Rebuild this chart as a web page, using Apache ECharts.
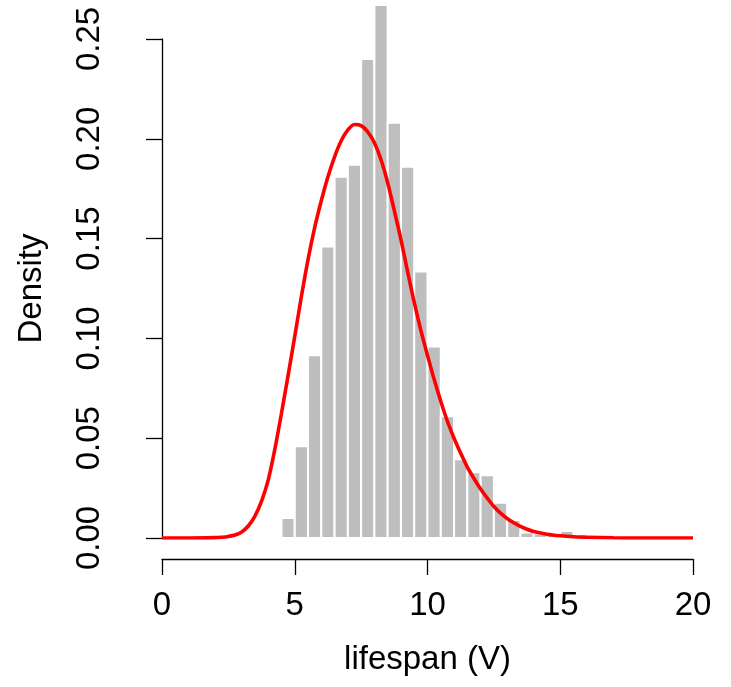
<!DOCTYPE html>
<html>
<head>
<meta charset="utf-8">
<script src="https://cdn.jsdelivr.net/npm/echarts@6/dist/echarts.min.js"></script>
<style>
html,body{margin:0;padding:0;background:#fff;}
#chart{width:731px;height:687px;}
</style>
</head>
<body>
<div id="chart"></div>
<script>
// Histogram bins (lifespan) and their densities
const binLeft  = [4.5, 5.0, 5.5, 6.0, 6.5, 7.0, 7.5, 8.0, 8.5, 9.0, 9.5, 10.0, 10.5, 11.0, 11.5, 12.0, 12.5, 13.0, 13.5, 14.0, 14.5, 15.0];
const binRight = [5.0, 5.5, 6.0, 6.5, 7.0, 7.5, 8.0, 8.5, 9.0, 9.5, 10.0, 10.5, 11.0, 11.5, 12.0, 12.5, 13.0, 13.5, 14.0, 14.5, 15.0, 15.5];
const binDensity = [0.010, 0.046, 0.0915, 0.146, 0.181, 0.187, 0.240, 0.267, 0.208, 0.186, 0.1335, 0.096, 0.061, 0.0395, 0.033, 0.0315, 0.0177, 0.009, 0.0028, 0.0023, 0.0015, 0.0035];

// Fitted density curve
const curveX = [0, 1, 2, 2.25, 2.5, 2.75, 3, 3.25, 3.5, 3.75, 4, 4.25, 4.5, 4.75, 5, 5.25, 5.5, 5.75, 6, 6.25, 6.5, 6.75, 7, 7.25, 7.5, 7.75, 8, 8.25, 8.5, 8.75, 9, 9.25, 9.5, 9.75, 10, 10.25, 10.5, 10.75, 11, 11.25, 11.5, 11.75, 12, 12.25, 12.5, 12.75, 13, 13.25, 13.5, 13.75, 14, 14.5, 15, 15.5, 16, 17, 18, 20];
const curveY = [0, 0, 0.0002, 0.0004, 0.0008, 0.0015, 0.0030, 0.0060, 0.0110, 0.0185, 0.0290, 0.0445, 0.0625, 0.0815, 0.1010, 0.1210, 0.1395, 0.1555, 0.1690, 0.1810, 0.1910, 0.1990, 0.2045, 0.2072, 0.2066, 0.2035, 0.1980, 0.1895, 0.1780, 0.1640, 0.1495, 0.1335, 0.1180, 0.1040, 0.0915, 0.0795, 0.0685, 0.0585, 0.0500, 0.0425, 0.0355, 0.0298, 0.0245, 0.0200, 0.0158, 0.0125, 0.0098, 0.0076, 0.0058, 0.0044, 0.0033, 0.0019, 0.0011, 0.0006, 0.0004, 0.0001, 0, 0];

const xTicks = [0, 5, 10, 15, 20];
const yTicks = [0, 0.05, 0.10, 0.15, 0.20, 0.25];

const xLabel = 'lifespan (V)';
const yLabel = 'Density';

const histData = binLeft.map((l, i) => [l, binRight[i], binDensity[i]]);
const curveData = curveX.map((x, i) => [x, curveY[i]]);

const chart = echarts.init(document.getElementById('chart'), null, {renderer: 'canvas'});
const FONT = 'Liberation Sans, Arial, Helvetica, sans-serif';

chart.setOption({
  backgroundColor: '#ffffff',
  animation: false,
  grid: {left: 162, right: 38, top: 39, bottom: 149},
  xAxis: {
    type: 'value',
    min: xTicks[0], max: xTicks[xTicks.length - 1], interval: 5,
    offset: 21,
    name: xLabel, nameLocation: 'middle', nameGap: 84,
    nameTextStyle: {fontSize: 33, color: '#000', fontFamily: FONT},
    axisLine: {show: true, onZero: false, lineStyle: {color: '#000', width: 1.3}},
    axisTick: {show: true, length: 16, lineStyle: {color: '#000', width: 1.3}},
    axisLabel: {fontSize: 33, color: '#000', fontFamily: FONT, margin: 30},
    splitLine: {show: false}
  },
  yAxis: {
    type: 'value',
    min: yTicks[0], max: yTicks[yTicks.length - 1], interval: 0.05,
    offset: 20,
    name: yLabel, nameLocation: 'middle', nameGap: 94,
    nameTextStyle: {fontSize: 33, color: '#000', fontFamily: FONT},
    axisLine: {show: true, lineStyle: {color: '#000', width: 1.3}},
    axisTick: {show: true, length: 16, lineStyle: {color: '#000', width: 1.3}},
    axisLabel: {fontSize: 33, color: '#000', fontFamily: FONT, rotate: 90, margin: 36,
      formatter: v => v.toFixed(2)},
    splitLine: {show: false}
  },
  series: [
    {
      type: 'custom',
      name: 'histogram',
      clip: false,
      encode: {x: [0, 1], y: 2},
      data: histData,
      renderItem: function (params, api) {
        const p0 = api.coord([api.value(0), api.value(2)]);
        const p1 = api.coord([api.value(1), 0]);
        return {
          type: 'rect',
          shape: {x: p0[0], y: p0[1], width: p1[0] - p0[0], height: p1[1] - p0[1]},
          style: {fill: '#bebebe', stroke: '#ffffff', lineWidth: 2}
        };
      },
      z: 1
    },
    {
      type: 'line',
      name: 'density',
      data: curveData,
      showSymbol: false,
      symbol: 'none',
      smooth: 0.3,
      lineStyle: {color: '#ff0000', width: 3.6},
      z: 2
    }
  ]
});
</script>
</body>
</html>
